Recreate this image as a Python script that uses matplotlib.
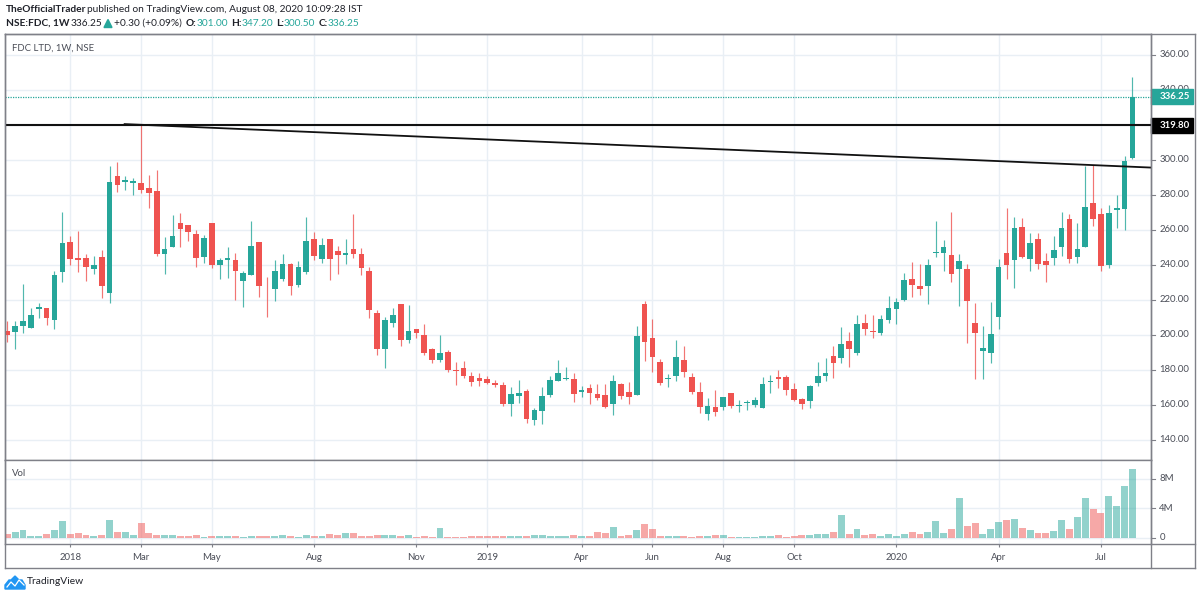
import numpy as np
import matplotlib
matplotlib.use('Agg')
import matplotlib.pyplot as plt
from matplotlib.patches import Rectangle, Polygon
from matplotlib.lines import Line2D

# weekly candles
opens = [202.1, 201.7, 205.0, 204.0, 214.7, 215.1, 208.4, 236.0, 253.0, 243.6, 243.8, 237.5,
         244.4, 224.0, 290.9, 287.3, 286.9, 286.9, 283.8, 282.3, 246.1, 250.3, 263.7, 262.8,
         257.6, 244.2, 264.0, 239.8, 243.0, 243.0, 230.6, 234.3, 253.0, 226.2, 226.0, 232.0,
         240.4, 228.5, 235.8, 255.0, 243.4, 254.5, 247.6, 245.7, 249.1, 246.3, 236.4, 212.2,
         191.6, 206.7, 217.7, 197.1, 203.4, 199.8, 192.0, 185.5, 190.3, 180.0, 180.8, 176.2,
         175.0, 174.5, 172.2, 171.2, 160.2, 165.1, 168.0, 151.4, 156.6, 165.5, 173.7, 174.7,
         174.8, 167.2, 169.5, 166.3, 165.7, 160.2, 172.0, 167.0, 165.5, 217.5, 198.1, 184.6,
         174.7, 176.2, 185.7, 175.8, 167.0, 154.7, 158.8, 158.8, 166.7, 159.2, 160.9, 160.0,
         158.3, 172.9, 175.8, 175.8, 168.8, 163.0, 161.9, 172.4, 176.4, 188.0, 186.7, 196.6,
         189.7, 206.8, 202.4, 200.9, 208.5, 214.9, 220.0, 232.1, 227.9, 227.7, 247.0, 247.0,
         245.7, 237.8, 237.5, 206.8, 190.7, 189.8, 210.1, 246.7, 243.0, 261.8, 243.4, 254.9,
         242.1, 243.8, 250.3, 266.2, 244.7, 250.1, 275.4, 269.1, 240.1, 271.2, 272.1, 301.0]
highs = [207.8, 207.8, 229.0, 215.0, 218.0, 215.1, 236.7, 270.0, 256.5, 259.5, 246.3, 245.0,
         248.2, 296.3, 298.6, 291.0, 289.8, 320.4, 291.1, 294.0, 255.9, 268.5, 269.7, 262.8,
         259.9, 257.0, 264.0, 243.8, 250.0, 246.7, 236.2, 265.0, 253.0, 232.9, 243.0, 246.1,
         241.3, 242.1, 267.6, 259.0, 255.4, 254.5, 250.9, 255.0, 269.1, 249.7, 238.7, 213.9,
         210.0, 215.0, 217.7, 216.8, 203.4, 205.9, 192.6, 200.0, 191.2, 184.4, 185.1, 178.8,
         177.9, 176.2, 173.9, 172.9, 169.9, 174.1, 168.9, 158.3, 169.9, 176.6, 185.7, 181.7,
         178.1, 170.8, 171.6, 171.8, 171.6, 176.8, 172.6, 173.1, 204.9, 219.0, 208.8, 185.9,
         177.7, 196.8, 193.3, 178.1, 173.1, 164.0, 168.2, 164.4, 166.7, 162.5, 162.8, 164.4,
         175.8, 176.8, 180.0, 177.1, 172.2, 164.0, 171.4, 184.6, 186.9, 193.7, 204.6, 201.7,
         211.4, 211.6, 211.0, 211.2, 221.9, 221.2, 235.2, 241.7, 240.3, 243.2, 265.0, 254.1,
         270.2, 246.3, 240.3, 217.9, 204.7, 218.7, 243.2, 272.5, 267.4, 266.8, 258.2, 258.2,
         246.7, 256.2, 270.0, 269.3, 263.9, 296.5, 297.0, 272.3, 274.0, 280.2, 302.5, 347.2]
lows = [196.0, 191.6, 200.8, 204.0, 209.4, 205.8, 203.3, 230.0, 240.0, 236.0, 231.0, 235.0,
        220.9, 218.2, 281.7, 283.0, 279.8, 281.3, 272.2, 244.8, 235.0, 250.3, 250.2, 253.4,
        239.0, 241.3, 238.3, 231.6, 232.4, 220.1, 216.0, 234.3, 221.8, 210.0, 219.1, 231.0,
        222.8, 227.2, 234.9, 242.5, 241.1, 231.4, 234.7, 240.2, 243.8, 233.9, 209.7, 188.4,
        180.9, 204.4, 193.5, 195.2, 197.9, 188.4, 183.8, 184.6, 178.7, 171.0, 175.4, 170.5,
        170.5, 171.6, 170.0, 159.2, 153.5, 160.9, 149.3, 148.2, 148.7, 164.4, 173.3, 174.3,
        161.5, 164.4, 160.6, 162.9, 157.9, 154.1, 163.2, 160.6, 165.5, 185.1, 178.9, 171.0,
        170.1, 173.5, 175.6, 166.1, 155.2, 151.0, 153.7, 157.0, 158.3, 156.0, 157.0, 158.7,
        158.3, 166.9, 169.5, 165.5, 161.9, 157.7, 158.3, 170.5, 173.3, 175.0, 183.8, 181.3,
        188.2, 199.9, 198.2, 199.9, 206.8, 206.2, 219.0, 221.8, 222.7, 217.5, 244.2, 236.7,
        230.0, 216.2, 195.3, 174.6, 174.6, 183.8, 203.4, 232.1, 226.9, 243.6, 236.7, 237.7,
        230.0, 240.1, 245.1, 240.9, 241.1, 250.1, 262.4, 236.5, 237.9, 261.2, 260.0, 300.5]
closes = [199.8, 205.2, 207.8, 211.0, 215.7, 209.4, 234.3, 252.4, 243.4, 242.9, 238.8, 239.8,
          228.0, 287.5, 285.5, 288.6, 288.2, 282.7, 281.3, 246.1, 249.0, 256.3, 260.7, 258.6,
          243.8, 255.3, 239.6, 242.9, 243.8, 236.6, 235.2, 250.7, 227.9, 225.9, 236.6, 240.4,
          227.6, 238.5, 253.7, 244.8, 251.4, 243.4, 245.7, 246.9, 246.1, 237.9, 213.9, 191.6,
          208.6, 211.4, 197.1, 202.1, 200.9, 189.7, 185.7, 189.3, 179.6, 179.2, 176.4, 172.9,
          173.3, 172.2, 171.4, 160.2, 166.3, 166.8, 151.6, 156.7, 164.9, 173.9, 178.1, 175.4,
          166.1, 168.6, 166.5, 163.8, 158.7, 173.5, 165.1, 164.4, 199.0, 196.0, 187.4, 172.4,
          175.4, 187.2, 178.5, 167.4, 158.8, 159.4, 155.6, 164.4, 159.0, 159.6, 161.3, 162.7,
          171.6, 173.3, 174.7, 168.2, 162.7, 160.6, 170.9, 176.2, 178.1, 183.8, 194.9, 191.6,
          206.3, 203.2, 201.6, 208.7, 215.0, 218.9, 231.1, 228.7, 226.4, 239.8, 247.4, 249.9,
          234.6, 242.1, 219.5, 201.0, 192.6, 200.5, 238.8, 239.6, 260.8, 244.7, 252.6, 240.7,
          239.6, 248.4, 261.2, 243.4, 249.3, 273.1, 266.2, 239.2, 269.7, 272.3, 299.3, 336.25]
# volume in millions
volumes = [0.50, 0.80, 1.00, 0.27, 0.22, 0.50, 1.00, 2.25, 0.50, 0.63, 0.36, 0.27,
           0.36, 2.43, 0.72, 0.72, 0.36, 1.98, 0.59, 0.36, 0.36, 0.36, 0.27, 0.27,
           0.36, 0.14, 0.27, 0.27, 0.18, 0.27, 0.14, 0.27, 0.27, 0.27, 0.27, 0.36,
           0.27, 0.14, 0.36, 0.27, 0.27, 0.50, 0.40, 0.63, 0.63, 0.27, 0.22, 0.36,
           0.36, 0.36, 0.27, 0.36, 0.14, 0.27, 0.14, 1.35, 0.14, 0.14, 0.14, 0.27,
           0.27, 0.27, 0.27, 0.27, 0.27, 0.27, 0.27, 0.36, 0.36, 0.27, 0.27, 0.27,
           0.36, 0.27, 0.27, 0.72, 0.59, 1.44, 0.27, 0.36, 1.00, 1.85, 1.20, 0.27,
           0.27, 0.27, 0.27, 0.14, 0.27, 0.27, 0.36, 0.36, 0.14, 0.14, 0.14, 0.14,
           0.22, 0.22, 0.36, 0.14, 0.22, 0.32, 0.32, 0.45, 0.45, 0.77, 3.06, 0.45,
           1.13, 0.32, 0.45, 0.22, 0.45, 0.22, 0.54, 0.77, 0.54, 0.77, 2.30, 0.68,
           1.13, 5.30, 1.53, 1.98, 0.54, 1.13, 2.07, 2.39, 2.52, 1.30, 1.00, 0.68,
           0.68, 0.90, 2.39, 1.20, 2.84, 5.30, 3.90, 3.38, 5.63, 4.32, 7.03, 9.28]

date_ticks = [8, 17, 26, 39, 52, 61, 73, 82, 91, 100, 113, 126, 139]
date_labels = ['2018', 'Mar', 'May', 'Aug', 'Nov', '2019', 'Apr', 'Jun', 'Aug', 'Oct', '2020', 'Apr', 'Jul']
price_ticks = [140, 160, 180, 200, 220, 240, 260, 280, 300, 320, 340, 360]
vol_ticks = [0, 4, 8]
vol_labels = ['0', '4M', '8M']

last_price = 336.25
level_price = 319.80
trend_x = [14.8, 145.4]
trend_y = [320.5, 295.6]

UP = '#26a69a'
DOWN = '#ef5350'
GRID = '#e9eff5'
FRAME = '#7f8088'
TEXT = '#4a4d57'
AXIS_SIZE = 6.9

W, H = 1200, 597
plt.rcParams['font.family'] = ['Lato', 'DejaVu Sans']


def box(left, top, right, bottom):
    # pixel box of the picture -> figure fractions
    return [left / W, 1 - bottom / H, (right - left) / W, (bottom - top) / H]


def fx(x):
    return x / W


def fy(y):
    return 1 - y / H


fig = plt.figure(figsize=(12, 5.97), dpi=100)
ax = fig.add_axes(box(5, 34.3, 1151.3, 459.7))
vax = fig.add_axes(box(5, 459.7, 1151.3, 544.3), sharex=ax)

x = np.arange(len(closes))
o = np.array(opens)
c = np.array(closes)
colors = [UP if cl >= op else DOWN for op, cl in zip(opens, closes)]

ax.vlines(x, lows, highs, colors=colors, linewidth=0.85, alpha=0.8, zorder=3)
ax.bar(x, np.maximum(np.abs(c - o), 0.5), bottom=np.minimum(o, c), width=0.72, color=colors, zorder=4)
vax.bar(x, volumes, width=0.88, color=colors, alpha=0.5, zorder=3)

ax.axhline(last_price, color=UP, linewidth=0.9, linestyle=(0, (1, 1)), zorder=2)
ax.axhline(level_price, color='#111111', linewidth=1.5, zorder=5)
ax.plot(trend_x, trend_y, color='#111111', linewidth=1.3, zorder=5, solid_capstyle='butt')

ax.set_xlim(-0.29, 145.4)
ax.set_ylim(128.5, 371.84)
vax.set_ylim(-0.89, 10.54)

for a in (ax, vax):
    a.grid(True, color=GRID, linewidth=1.0, zorder=0)
    a.set_axisbelow(True)
    a.set_xticks(date_ticks)
    for s in a.spines.values():
        s.set_color(FRAME)
        s.set_linewidth(1.0)

ax.set_yticks(price_ticks)
ax.tick_params(axis='x', length=0, labelbottom=False)
ax.tick_params(axis='y', length=0, labelleft=False)
vax.set_yticks(vol_ticks)
vax.tick_params(axis='y', length=0, labelleft=False)
vax.tick_params(axis='x', length=2.5, width=0.8, color=FRAME, labelbottom=False)

# right scale, ticks and labels
for p in price_ticks:
    ax.plot([1.0, 1.0 + 4 / 1146.3], [p, p], color=FRAME, linewidth=0.8,
            transform=ax.get_yaxis_transform(), clip_on=False)
    ax.annotate(f'{p:.2f}', (1.0, p), xycoords=ax.get_yaxis_transform(), xytext=(8, 0),
                textcoords='offset pixels', fontsize=AXIS_SIZE, color=TEXT, va='center', ha='left')
for v, lab in zip(vol_ticks, vol_labels):
    vax.plot([1.0, 1.0 + 4 / 1146.3], [v, v], color=FRAME, linewidth=0.8,
             transform=vax.get_yaxis_transform(), clip_on=False)
    vax.annotate(lab, (1.0, v), xycoords=vax.get_yaxis_transform(), xytext=(8, 0),
                 textcoords='offset pixels', fontsize=AXIS_SIZE, color=TEXT, va='center', ha='left')

# date labels under the volume pane
for t, lab in zip(date_ticks, date_labels):
    vax.annotate(lab, (t, 0), xycoords=vax.get_xaxis_transform(), xytext=(0, -13),
                 textcoords='offset pixels', fontsize=AXIS_SIZE, color=TEXT, va='center', ha='center')

# price boxes on the scale
for p, col, txtcol in [(last_price, UP, 'white'), (level_price, 'black', 'white')]:
    ax.add_patch(Rectangle((1.0, p - 4.3), 42 / 1146.3, 8.6, transform=ax.get_yaxis_transform(),
                           color=col, clip_on=False, zorder=10))
    ax.annotate(f'{p:.2f}', (1.0, p), xycoords=ax.get_yaxis_transform(), xytext=(8, 0),
                textcoords='offset pixels', fontsize=AXIS_SIZE, color=txtcol, fontweight='bold',
                va='center', ha='left', zorder=11)

# outer frame
for xs, ys in [([5, 1194.7], [34.3, 34.3]), ([5, 1194.7], [567.7, 567.7]),
               ([5, 5], [34.3, 567.7]), ([1194.7, 1194.7], [34.3, 567.7]),
               ([1151.3, 1151.3], [34.3, 567.7]), ([1151.3, 1194.7], [544.3, 544.3])]:
    fig.add_artist(Line2D([fx(a) for a in xs], [fy(b) for b in ys], color=FRAME, linewidth=1.0))


def put(px, py, s, **kw):
    kw.setdefault('fontsize', 7.3)
    kw.setdefault('color', '#1f2129')
    fig.text(fx(px), fy(py), s, va='center', ha='left', **kw)


put(6, 10, 'TheOfficialTrader', fontweight='bold')
put(87, 10, 'published on TradingView.com, August 08, 2020 10:09:28 IST')
put(6, 23.5, 'NSE:FDC, 1W', fontweight='bold')
put(71, 23.5, '336.25')
fig.add_artist(Polygon([[fx(104), fy(27.5)], [fx(112), fy(27.5)], [fx(108), fy(19.5)]], color=UP))
put(114, 23.5, '+0.30 (+0.09%)')
for lx, lab, vx, val in [(186, 'O:', 197, '301.00'), (231, 'H:', 242, '347.20'),
                         (276, 'L:', 284, '300.50'), (319, 'C:', 328, '336.25')]:
    put(lx, 23.5, lab, fontweight='bold')
    put(vx, 23.5, val, color=UP)
put(12, 48, 'FDC LTD, 1W, NSE', color=TEXT, fontsize=AXIS_SIZE)
put(12, 473, 'Vol', color=TEXT, fontsize=AXIS_SIZE)

# TradingView logo
logo = [(5, 589), (5, 585), (9, 580), (11, 580), (15, 576), (19, 580), (22, 580), (25, 585), (25, 589)]
fig.add_artist(Polygon([[fx(a), fy(b)] for a, b in logo], color='#2196f3'))
fig.add_artist(Line2D([fx(a) for a in (7, 11, 15, 19, 24)], [fy(b) for b in (587, 582, 586, 580, 585)],
                      color='white', linewidth=0.9))
put(27, 582, 'TradingView', fontsize=7.4)

fig.savefig('out.png', dpi=100, facecolor='white')
